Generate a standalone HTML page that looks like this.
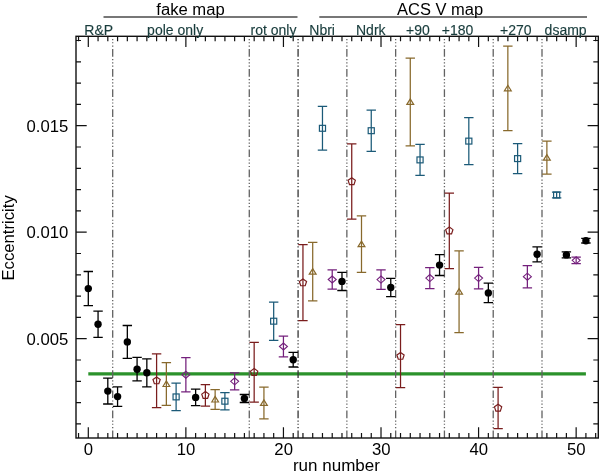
<!DOCTYPE html><html><head><meta charset="utf-8"><style>html,body{margin:0;padding:0;background:#fff;}svg{display:block;will-change:transform;}text{font-family:"Liberation Sans",sans-serif;}</style></head><body>
<svg width="600" height="476" viewBox="0 0 600 476">
<rect width="600" height="476" fill="#fff"/>
<line x1="88.30" y1="373.85" x2="585.91" y2="373.85" stroke="#2b922b" stroke-width="3.3"/>
<line x1="112.69" y1="36.3" x2="112.69" y2="438.0" stroke="#626262" stroke-width="1.3" stroke-dasharray="7.7 2.3 1.2 2.0 1.2 2.1 1.2 2.38" stroke-dashoffset="7.36"/>
<line x1="249.29" y1="36.3" x2="249.29" y2="438.0" stroke="#626262" stroke-width="1.3" stroke-dasharray="7.7 2.3 1.2 2.0 1.2 2.1 1.2 2.38" stroke-dashoffset="7.36"/>
<line x1="298.08" y1="36.3" x2="298.08" y2="438.0" stroke="#333" stroke-width="1.3" stroke-dasharray="7.7 2.3 1.2 2.0 1.2 2.1 1.2 2.38" stroke-dashoffset="7.36"/>
<line x1="346.86" y1="36.3" x2="346.86" y2="438.0" stroke="#626262" stroke-width="1.3" stroke-dasharray="7.7 2.3 1.2 2.0 1.2 2.1 1.2 2.38" stroke-dashoffset="7.36"/>
<line x1="395.65" y1="36.3" x2="395.65" y2="438.0" stroke="#626262" stroke-width="1.3" stroke-dasharray="7.7 2.3 1.2 2.0 1.2 2.1 1.2 2.38" stroke-dashoffset="7.36"/>
<line x1="444.43" y1="36.3" x2="444.43" y2="438.0" stroke="#626262" stroke-width="1.3" stroke-dasharray="7.7 2.3 1.2 2.0 1.2 2.1 1.2 2.38" stroke-dashoffset="7.36"/>
<line x1="493.22" y1="36.3" x2="493.22" y2="438.0" stroke="#626262" stroke-width="1.3" stroke-dasharray="7.7 2.3 1.2 2.0 1.2 2.1 1.2 2.38" stroke-dashoffset="7.36"/>
<line x1="542.00" y1="36.3" x2="542.00" y2="438.0" stroke="#626262" stroke-width="1.3" stroke-dasharray="7.7 2.3 1.2 2.0 1.2 2.1 1.2 2.38" stroke-dashoffset="7.36"/>
<path d="M88.30,271.50V305.70M83.60,271.50H93.00M83.60,305.70H93.00" stroke="#000000" stroke-width="1.3" fill="none"/>
<circle cx="88.30" cy="288.60" r="3.7" fill="#000"/>
<path d="M98.06,311.10V337.30M93.36,311.10H102.76M93.36,337.30H102.76" stroke="#000000" stroke-width="1.3" fill="none"/>
<circle cx="98.06" cy="324.20" r="3.7" fill="#000"/>
<path d="M107.81,378.20V404.00M103.11,378.20H112.51M103.11,404.00H112.51" stroke="#000000" stroke-width="1.3" fill="none"/>
<circle cx="107.81" cy="391.10" r="3.7" fill="#000"/>
<path d="M117.57,386.90V406.30M112.87,386.90H122.27M112.87,406.30H122.27" stroke="#000000" stroke-width="1.3" fill="none"/>
<circle cx="117.57" cy="396.60" r="3.7" fill="#000"/>
<path d="M127.33,325.50V358.30M122.63,325.50H132.03M122.63,358.30H132.03" stroke="#000000" stroke-width="1.3" fill="none"/>
<circle cx="127.33" cy="341.90" r="3.7" fill="#000"/>
<path d="M137.08,357.45V380.95M132.38,357.45H141.78M132.38,380.95H141.78" stroke="#000000" stroke-width="1.3" fill="none"/>
<circle cx="137.08" cy="369.20" r="3.7" fill="#000"/>
<path d="M146.84,358.80V386.80M142.14,358.80H151.54M142.14,386.80H151.54" stroke="#000000" stroke-width="1.3" fill="none"/>
<circle cx="146.84" cy="372.80" r="3.7" fill="#000"/>
<path d="M156.60,353.80V407.60M151.90,353.80H161.30M151.90,407.60H161.30" stroke="#7a1d1d" stroke-width="1.25" fill="none"/>
<polygon points="156.60,376.90 160.21,379.53 158.83,383.77 154.37,383.77 152.98,379.53" fill="none" stroke="#7a1d1d" stroke-width="1.2"/>
<path d="M166.36,362.60V405.40M161.66,362.60H171.06M161.66,405.40H171.06" stroke="#88692c" stroke-width="1.25" fill="none"/>
<polygon points="162.96,386.50 166.36,381.00 169.76,386.50" fill="none" stroke="#88692c" stroke-width="1.2"/>
<path d="M176.11,383.20V410.60M171.41,383.20H180.81M171.41,410.60H180.81" stroke="#1b5a78" stroke-width="1.25" fill="none"/>
<rect x="173.06" y="393.95" width="6.1" height="5.9" fill="none" stroke="#1b5a78" stroke-width="1.2"/>
<path d="M185.87,357.60V391.80M181.17,357.60H190.57M181.17,391.80H190.57" stroke="#74207c" stroke-width="1.25" fill="none"/>
<polygon points="181.87,374.70 185.87,371.20 189.87,374.70 185.87,378.20" fill="none" stroke="#74207c" stroke-width="1.1"/>
<path d="M195.63,389.20V405.60M190.93,389.20H200.33M190.93,405.60H200.33" stroke="#000000" stroke-width="1.3" fill="none"/>
<circle cx="195.63" cy="397.40" r="3.7" fill="#000"/>
<path d="M205.38,384.50V406.10M200.68,384.50H210.08M200.68,406.10H210.08" stroke="#7a1d1d" stroke-width="1.25" fill="none"/>
<polygon points="205.38,391.50 209.00,394.13 207.62,398.37 203.15,398.37 201.77,394.13" fill="none" stroke="#7a1d1d" stroke-width="1.2"/>
<path d="M215.14,389.60V409.40M210.44,389.60H219.84M210.44,409.40H219.84" stroke="#88692c" stroke-width="1.25" fill="none"/>
<polygon points="211.74,402.00 215.14,396.50 218.54,402.00" fill="none" stroke="#88692c" stroke-width="1.2"/>
<path d="M224.90,392.60V409.80M220.20,392.60H229.60M220.20,409.80H229.60" stroke="#1b5a78" stroke-width="1.25" fill="none"/>
<rect x="221.85" y="398.25" width="6.1" height="5.9" fill="none" stroke="#1b5a78" stroke-width="1.2"/>
<path d="M234.65,372.80V389.80M229.95,372.80H239.35M229.95,389.80H239.35" stroke="#74207c" stroke-width="1.25" fill="none"/>
<polygon points="230.65,381.30 234.65,377.80 238.65,381.30 234.65,384.80" fill="none" stroke="#74207c" stroke-width="1.1"/>
<path d="M244.41,394.50V402.50M239.71,394.50H249.11M239.71,402.50H249.11" stroke="#000000" stroke-width="1.3" fill="none"/>
<circle cx="244.41" cy="398.50" r="3.7" fill="#000"/>
<path d="M254.17,342.40V402.20M249.47,342.40H258.87M249.47,402.20H258.87" stroke="#7a1d1d" stroke-width="1.25" fill="none"/>
<polygon points="254.17,368.50 257.78,371.13 256.40,375.37 251.94,375.37 250.55,371.13" fill="none" stroke="#7a1d1d" stroke-width="1.2"/>
<path d="M263.93,387.00V418.80M259.23,387.00H268.63M259.23,418.80H268.63" stroke="#88692c" stroke-width="1.25" fill="none"/>
<polygon points="260.53,405.40 263.93,399.90 267.33,405.40" fill="none" stroke="#88692c" stroke-width="1.2"/>
<path d="M273.68,302.00V340.40M268.98,302.00H278.38M268.98,340.40H278.38" stroke="#1b5a78" stroke-width="1.25" fill="none"/>
<rect x="270.63" y="318.25" width="6.1" height="5.9" fill="none" stroke="#1b5a78" stroke-width="1.2"/>
<path d="M283.44,336.10V356.90M278.74,336.10H288.14M278.74,356.90H288.14" stroke="#74207c" stroke-width="1.25" fill="none"/>
<polygon points="279.44,346.50 283.44,343.00 287.44,346.50 283.44,350.00" fill="none" stroke="#74207c" stroke-width="1.1"/>
<path d="M293.20,352.40V367.00M288.50,352.40H297.90M288.50,367.00H297.90" stroke="#000000" stroke-width="1.3" fill="none"/>
<circle cx="293.20" cy="359.70" r="3.7" fill="#000"/>
<path d="M302.95,244.70V320.70M298.25,244.70H307.65M298.25,320.70H307.65" stroke="#7a1d1d" stroke-width="1.25" fill="none"/>
<polygon points="302.95,278.90 306.57,281.53 305.19,285.77 300.72,285.77 299.34,281.53" fill="none" stroke="#7a1d1d" stroke-width="1.2"/>
<path d="M312.71,242.40V300.80M308.01,242.40H317.41M308.01,300.80H317.41" stroke="#88692c" stroke-width="1.25" fill="none"/>
<polygon points="309.31,274.10 312.71,268.60 316.11,274.10" fill="none" stroke="#88692c" stroke-width="1.2"/>
<path d="M322.47,106.40V150.20M317.77,106.40H327.17M317.77,150.20H327.17" stroke="#1b5a78" stroke-width="1.25" fill="none"/>
<rect x="319.42" y="125.35" width="6.1" height="5.9" fill="none" stroke="#1b5a78" stroke-width="1.2"/>
<path d="M332.22,269.80V289.20M327.52,269.80H336.92M327.52,289.20H336.92" stroke="#74207c" stroke-width="1.25" fill="none"/>
<polygon points="328.22,279.50 332.22,276.00 336.22,279.50 332.22,283.00" fill="none" stroke="#74207c" stroke-width="1.1"/>
<path d="M341.98,272.30V290.50M337.28,272.30H346.68M337.28,290.50H346.68" stroke="#000000" stroke-width="1.3" fill="none"/>
<circle cx="341.98" cy="281.40" r="3.7" fill="#000"/>
<path d="M351.74,143.80V219.20M347.04,143.80H356.44M347.04,219.20H356.44" stroke="#7a1d1d" stroke-width="1.25" fill="none"/>
<polygon points="351.74,177.70 355.35,180.33 353.97,184.57 349.51,184.57 348.12,180.33" fill="none" stroke="#7a1d1d" stroke-width="1.2"/>
<path d="M361.50,215.80V272.40M356.80,215.80H366.20M356.80,272.40H366.20" stroke="#88692c" stroke-width="1.25" fill="none"/>
<polygon points="358.10,246.60 361.50,241.10 364.90,246.60" fill="none" stroke="#88692c" stroke-width="1.2"/>
<path d="M371.25,110.10V151.30M366.55,110.10H375.95M366.55,151.30H375.95" stroke="#1b5a78" stroke-width="1.25" fill="none"/>
<rect x="368.20" y="127.75" width="6.1" height="5.9" fill="none" stroke="#1b5a78" stroke-width="1.2"/>
<path d="M381.01,269.80V289.40M376.31,269.80H385.71M376.31,289.40H385.71" stroke="#74207c" stroke-width="1.25" fill="none"/>
<polygon points="377.01,279.60 381.01,276.10 385.01,279.60 381.01,283.10" fill="none" stroke="#74207c" stroke-width="1.1"/>
<path d="M390.77,278.40V296.60M386.07,278.40H395.47M386.07,296.60H395.47" stroke="#000000" stroke-width="1.3" fill="none"/>
<circle cx="390.77" cy="287.50" r="3.7" fill="#000"/>
<path d="M400.52,324.70V387.70M395.82,324.70H405.22M395.82,387.70H405.22" stroke="#7a1d1d" stroke-width="1.25" fill="none"/>
<polygon points="400.52,352.40 404.14,355.03 402.76,359.27 398.29,359.27 396.91,355.03" fill="none" stroke="#7a1d1d" stroke-width="1.2"/>
<path d="M410.28,58.00V145.80M405.58,58.00H414.98M405.58,145.80H414.98" stroke="#88692c" stroke-width="1.25" fill="none"/>
<polygon points="406.88,104.40 410.28,98.90 413.68,104.40" fill="none" stroke="#88692c" stroke-width="1.2"/>
<path d="M420.04,144.40V175.40M415.34,144.40H424.74M415.34,175.40H424.74" stroke="#1b5a78" stroke-width="1.25" fill="none"/>
<rect x="416.99" y="156.95" width="6.1" height="5.9" fill="none" stroke="#1b5a78" stroke-width="1.2"/>
<path d="M429.80,267.70V288.50M425.10,267.70H434.50M425.10,288.50H434.50" stroke="#74207c" stroke-width="1.25" fill="none"/>
<polygon points="425.80,278.10 429.80,274.60 433.80,278.10 429.80,281.60" fill="none" stroke="#74207c" stroke-width="1.1"/>
<path d="M439.55,254.70V275.50M434.85,254.70H444.25M434.85,275.50H444.25" stroke="#000000" stroke-width="1.3" fill="none"/>
<circle cx="439.55" cy="265.10" r="3.7" fill="#000"/>
<path d="M449.31,193.00V268.60M444.61,193.00H454.01M444.61,268.60H454.01" stroke="#7a1d1d" stroke-width="1.25" fill="none"/>
<polygon points="449.31,227.00 452.92,229.63 451.54,233.87 447.08,233.87 445.69,229.63" fill="none" stroke="#7a1d1d" stroke-width="1.2"/>
<path d="M459.07,250.80V332.60M454.37,250.80H463.77M454.37,332.60H463.77" stroke="#88692c" stroke-width="1.25" fill="none"/>
<polygon points="455.67,294.20 459.07,288.70 462.47,294.20" fill="none" stroke="#88692c" stroke-width="1.2"/>
<path d="M468.82,117.60V164.60M464.12,117.60H473.52M464.12,164.60H473.52" stroke="#1b5a78" stroke-width="1.25" fill="none"/>
<rect x="465.77" y="138.15" width="6.1" height="5.9" fill="none" stroke="#1b5a78" stroke-width="1.2"/>
<path d="M478.58,267.30V288.90M473.88,267.30H483.28M473.88,288.90H483.28" stroke="#74207c" stroke-width="1.25" fill="none"/>
<polygon points="474.58,278.10 478.58,274.60 482.58,278.10 478.58,281.60" fill="none" stroke="#74207c" stroke-width="1.1"/>
<path d="M488.34,283.15V302.65M483.64,283.15H493.04M483.64,302.65H493.04" stroke="#000000" stroke-width="1.3" fill="none"/>
<circle cx="488.34" cy="292.90" r="3.7" fill="#000"/>
<path d="M498.09,387.40V428.60M493.39,387.40H502.79M493.39,428.60H502.79" stroke="#7a1d1d" stroke-width="1.25" fill="none"/>
<polygon points="498.09,404.20 501.71,406.83 500.33,411.07 495.86,411.07 494.48,406.83" fill="none" stroke="#7a1d1d" stroke-width="1.2"/>
<path d="M507.85,46.00V130.60M503.15,46.00H512.55M503.15,130.60H512.55" stroke="#88692c" stroke-width="1.25" fill="none"/>
<polygon points="504.45,90.80 507.85,85.30 511.25,90.80" fill="none" stroke="#88692c" stroke-width="1.2"/>
<path d="M517.61,143.60V173.60M512.91,143.60H522.31M512.91,173.60H522.31" stroke="#1b5a78" stroke-width="1.25" fill="none"/>
<rect x="514.56" y="155.65" width="6.1" height="5.9" fill="none" stroke="#1b5a78" stroke-width="1.2"/>
<path d="M527.37,265.50V287.90M522.66,265.50H532.07M522.66,287.90H532.07" stroke="#74207c" stroke-width="1.25" fill="none"/>
<polygon points="523.37,276.70 527.37,273.20 531.37,276.70 527.37,280.20" fill="none" stroke="#74207c" stroke-width="1.1"/>
<path d="M537.12,246.80V261.80M532.42,246.80H541.82M532.42,261.80H541.82" stroke="#000000" stroke-width="1.3" fill="none"/>
<circle cx="537.12" cy="254.30" r="3.7" fill="#000"/>
<path d="M546.88,141.00V174.20M542.18,141.00H551.58M542.18,174.20H551.58" stroke="#88692c" stroke-width="1.25" fill="none"/>
<polygon points="543.48,160.10 546.88,154.60 550.28,160.10" fill="none" stroke="#88692c" stroke-width="1.2"/>
<path d="M556.64,192.20V197.80M551.94,192.20H561.34M551.94,197.80H561.34" stroke="#1b5a78" stroke-width="1.25" fill="none"/>
<rect x="553.59" y="192.05" width="6.1" height="5.9" fill="none" stroke="#1b5a78" stroke-width="1.2"/>
<path d="M566.39,251.90V257.90M561.69,251.90H571.09M561.69,257.90H571.09" stroke="#000000" stroke-width="1.3" fill="none"/>
<circle cx="566.39" cy="254.90" r="3.7" fill="#000"/>
<path d="M576.15,257.10V263.50M571.45,257.10H580.85M571.45,263.50H580.85" stroke="#74207c" stroke-width="1.25" fill="none"/>
<polygon points="572.15,260.30 576.15,256.80 580.15,260.30 576.15,263.80" fill="none" stroke="#74207c" stroke-width="1.1"/>
<path d="M585.91,238.40V243.00M581.21,238.40H590.61M581.21,243.00H590.61" stroke="#000000" stroke-width="1.3" fill="none"/>
<circle cx="585.91" cy="240.70" r="3.7" fill="#000"/>
<path d="M78.54,438.0V433.00M78.54,36.3V41.30M88.30,438.0V427.30M88.30,36.3V47.00M98.06,438.0V433.00M98.06,36.3V41.30M107.81,438.0V433.00M107.81,36.3V41.30M117.57,438.0V433.00M117.57,36.3V41.30M127.33,438.0V433.00M127.33,36.3V41.30M137.08,438.0V433.00M137.08,36.3V41.30M146.84,438.0V433.00M146.84,36.3V41.30M156.60,438.0V433.00M156.60,36.3V41.30M166.36,438.0V433.00M166.36,36.3V41.30M176.11,438.0V433.00M176.11,36.3V41.30M185.87,438.0V427.30M185.87,36.3V47.00M195.63,438.0V433.00M195.63,36.3V41.30M205.38,438.0V433.00M205.38,36.3V41.30M215.14,438.0V433.00M215.14,36.3V41.30M224.90,438.0V433.00M224.90,36.3V41.30M234.65,438.0V433.00M234.65,36.3V41.30M244.41,438.0V433.00M244.41,36.3V41.30M254.17,438.0V433.00M254.17,36.3V41.30M263.93,438.0V433.00M263.93,36.3V41.30M273.68,438.0V433.00M273.68,36.3V41.30M283.44,438.0V427.30M283.44,36.3V47.00M293.20,438.0V433.00M293.20,36.3V41.30M302.95,438.0V433.00M302.95,36.3V41.30M312.71,438.0V433.00M312.71,36.3V41.30M322.47,438.0V433.00M322.47,36.3V41.30M332.22,438.0V433.00M332.22,36.3V41.30M341.98,438.0V433.00M341.98,36.3V41.30M351.74,438.0V433.00M351.74,36.3V41.30M361.50,438.0V433.00M361.50,36.3V41.30M371.25,438.0V433.00M371.25,36.3V41.30M381.01,438.0V427.30M381.01,36.3V47.00M390.77,438.0V433.00M390.77,36.3V41.30M400.52,438.0V433.00M400.52,36.3V41.30M410.28,438.0V433.00M410.28,36.3V41.30M420.04,438.0V433.00M420.04,36.3V41.30M429.80,438.0V433.00M429.80,36.3V41.30M439.55,438.0V433.00M439.55,36.3V41.30M449.31,438.0V433.00M449.31,36.3V41.30M459.07,438.0V433.00M459.07,36.3V41.30M468.82,438.0V433.00M468.82,36.3V41.30M478.58,438.0V427.30M478.58,36.3V47.00M488.34,438.0V433.00M488.34,36.3V41.30M498.09,438.0V433.00M498.09,36.3V41.30M507.85,438.0V433.00M507.85,36.3V41.30M517.61,438.0V433.00M517.61,36.3V41.30M527.37,438.0V433.00M527.37,36.3V41.30M537.12,438.0V433.00M537.12,36.3V41.30M546.88,438.0V433.00M546.88,36.3V41.30M556.64,438.0V433.00M556.64,36.3V41.30M566.39,438.0V433.00M566.39,36.3V41.30M576.15,438.0V427.30M576.15,36.3V47.00M585.91,438.0V433.00M585.91,36.3V41.30M595.66,438.0V433.00M595.66,36.3V41.30M76.0,423.90H81.00M598.3,423.90H593.30M76.0,402.60H81.00M598.3,402.60H593.30M76.0,381.30H81.00M598.3,381.30H593.30M76.0,360.00H81.00M598.3,360.00H593.30M76.0,338.70H86.70M598.3,338.70H587.60M76.0,317.40H81.00M598.3,317.40H593.30M76.0,296.10H81.00M598.3,296.10H593.30M76.0,274.80H81.00M598.3,274.80H593.30M76.0,253.50H81.00M598.3,253.50H593.30M76.0,232.20H86.70M598.3,232.20H587.60M76.0,210.90H81.00M598.3,210.90H593.30M76.0,189.60H81.00M598.3,189.60H593.30M76.0,168.30H81.00M598.3,168.30H593.30M76.0,147.00H81.00M598.3,147.00H593.30M76.0,125.70H86.70M598.3,125.70H587.60M76.0,104.40H81.00M598.3,104.40H593.30M76.0,83.10H81.00M598.3,83.10H593.30M76.0,61.80H81.00M598.3,61.80H593.30M76.0,40.50H81.00M598.3,40.50H593.30" stroke="#111" stroke-width="1.2" fill="none"/>
<rect x="76.0" y="36.3" width="522.30" height="401.70" fill="none" stroke="#111" stroke-width="1.4"/>
<text transform="translate(68.40,344.50) scale(1.045,1)" font-size="16" text-anchor="end" fill="#000">0.005</text>
<text transform="translate(68.40,238.00) scale(1.045,1)" font-size="16" text-anchor="end" fill="#000">0.010</text>
<text transform="translate(68.40,131.50) scale(1.045,1)" font-size="16" text-anchor="end" fill="#000">0.015</text>
<text transform="translate(88.50,455.20) scale(1.045,1)" font-size="16" text-anchor="middle" fill="#000">0</text>
<text transform="translate(186.07,455.20) scale(1.045,1)" font-size="16" text-anchor="middle" fill="#000">10</text>
<text transform="translate(283.64,455.20) scale(1.045,1)" font-size="16" text-anchor="middle" fill="#000">20</text>
<text transform="translate(381.21,455.20) scale(1.045,1)" font-size="16" text-anchor="middle" fill="#000">30</text>
<text transform="translate(478.78,455.20) scale(1.045,1)" font-size="16" text-anchor="middle" fill="#000">40</text>
<text transform="translate(576.35,455.20) scale(1.045,1)" font-size="16" text-anchor="middle" fill="#000">50</text>
<text transform="translate(336.40,471.40)" font-size="17" text-anchor="middle" fill="#000">run number</text>
<text transform="translate(14.20,237.90) rotate(-90)" font-size="16.7" text-anchor="middle" fill="#000">Eccentricity</text>
<line x1="103.5" y1="16.9" x2="297.5" y2="16.9" stroke="#4a4a4a" stroke-width="1.5"/>
<line x1="319.3" y1="16.9" x2="587" y2="16.9" stroke="#4a4a4a" stroke-width="1.5"/>
<text transform="translate(156.30,15.00) scale(1.04,1)" font-size="16" text-anchor="start" fill="#000">fake map</text>
<text transform="translate(397.00,15.00) scale(1.03,1)" font-size="16" text-anchor="start" fill="#000">ACS V map</text>
<text transform="translate(84.30,34.90)" font-size="14" text-anchor="start" fill="#183c3c" stroke="#183c3c" stroke-width="0.15">R&amp;P</text>
<text transform="translate(147.10,34.90)" font-size="14" text-anchor="start" fill="#183c3c" stroke="#183c3c" stroke-width="0.15">pole only</text>
<text transform="translate(250.50,34.90)" font-size="14" text-anchor="start" fill="#183c3c" stroke="#183c3c" stroke-width="0.15">rot only</text>
<text transform="translate(309.30,34.90)" font-size="14" text-anchor="start" fill="#183c3c" stroke="#183c3c" stroke-width="0.15">Nbri</text>
<text transform="translate(356.00,34.90)" font-size="14" text-anchor="start" fill="#183c3c" stroke="#183c3c" stroke-width="0.15">Ndrk</text>
<text transform="translate(406.00,34.90)" font-size="14" text-anchor="start" fill="#183c3c" stroke="#183c3c" stroke-width="0.15">+90</text>
<text transform="translate(441.80,34.90)" font-size="14" text-anchor="start" fill="#183c3c" stroke="#183c3c" stroke-width="0.15">+180</text>
<text transform="translate(500.10,34.90)" font-size="14" text-anchor="start" fill="#183c3c" stroke="#183c3c" stroke-width="0.15">+270</text>
<text transform="translate(544.60,34.90)" font-size="14" text-anchor="start" fill="#183c3c" stroke="#183c3c" stroke-width="0.15">dsamp</text>
</svg></body></html>
